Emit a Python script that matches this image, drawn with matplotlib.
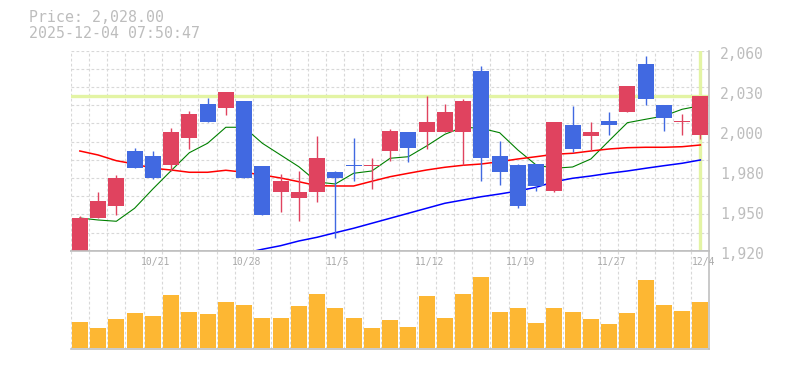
import numpy as np
import matplotlib
matplotlib.use("Agg")
import matplotlib.pyplot as plt
from matplotlib.transforms import blended_transform_factory, ScaledTranslation

# trading days, 2025-10-15 .. 2025-12-04
dates = ["10/15", "10/16", "10/17", "10/20", "10/21", "10/22", "10/23", "10/24",
         "10/27", "10/28", "10/29", "10/30", "10/31", "11/4", "11/5", "11/6",
         "11/7", "11/10", "11/11", "11/12", "11/13", "11/14", "11/17", "11/18",
         "11/19", "11/20", "11/21", "11/25", "11/26", "11/27", "11/28", "12/1",
         "12/2", "12/3", "12/4"]

opens = [1920, 1943, 1951, 1990, 1986, 1980, 1999, 2023, 2020, 2025,
         1979, 1961, 1957, 1961, 1975, 1980, 1979, 1990, 2003, 2003,
         2003, 2003, 2046, 1986, 1980, 1981, 1962, 2008, 2000, 2011,
         2017, 2051, 2022, 2010, 2001]
highs = [1944, 1961, 1973, 1992, 1990, 2006, 2018, 2027, 2031, 2025,
         1979, 1974, 1976, 2000, 1976, 1999, 1985, 2005, 2003, 2028,
         2023, 2026, 2049, 1997, 1981, 1981, 2010, 2021, 2010, 2017,
         2035, 2056, 2022, 2016, 2028]
lows = [1919, 1943, 1945, 1978, 1970, 1976, 1991, 2010, 2015, 1971,
        1945, 1947, 1941, 1954, 1929, 1969, 1963, 1983, 1982, 1991,
        2003, 1980, 1969, 1966, 1950, 1962, 1961, 1989, 1990, 2001,
        2017, 2022, 2004, 2001, 1998]
closes = [1943, 1955, 1971, 1978, 1971, 2003, 2016, 2010, 2031, 1971,
          1945, 1969, 1961, 1985, 1971, 1979, 1980, 2004, 1992, 2010,
          2017, 2025, 1985, 1975, 1951, 1965, 2010, 1991, 2003, 2008,
          2035, 2026, 2013, 2011, 2028]
volumes = [263, 200, 290, 353, 323, 533, 363, 343, 463, 433,
           303, 303, 423, 543, 403, 303, 203, 283, 213, 523,
           303, 543, 713, 363, 403, 253, 403, 363, 293, 243,
           353, 683, 433, 373, 463]

# moving averages
ma5 = [1942.9, 1941.5, 1940.6, 1949.7, 1963.2, 1976.0, 1988.6, 1995.2, 2006.4, 2006.4,
       1995.2, 1987.0, 1978.8, 1968.1, 1966.7, 1974.2, 1975.8, 1984.7, 1985.8, 1993.3,
       2001.5, 2006.4, 2005.7, 2002.6, 1990.5, 1980.0, 1977.7, 1978.6, 1984.2, 1997.0,
       2009.6, 2012.0, 2014.3, 2019.0, 2021.5]
ma25 = [1989.8, 1987.0, 1983.0, 1980.7, 1977.7, 1976.5, 1974.9, 1974.9, 1976.3, 1974.9,
        1973.0, 1970.9, 1968.3, 1965.5, 1965.3, 1965.3, 1968.6, 1971.8, 1974.2, 1976.5,
        1978.4, 1979.8, 1980.7, 1982.3, 1984.2, 1985.8, 1987.5, 1988.2, 1989.8, 1991.2,
        1992.1, 1992.4, 1992.4, 1992.8, 1994.0]
ma75 = [None] * 9 + [1918.2, 1921.0, 1923.5, 1926.8, 1929.4, 1932.6, 1935.7, 1939.2, 1942.7,
                     1946.2, 1949.7, 1953.2, 1955.5, 1957.8, 1959.7, 1961.8, 1964.4, 1968.3,
                     1970.7, 1972.3, 1974.2, 1975.8, 1977.7, 1979.5, 1981.2, 1983.5]

price_ticks = [1920, 1948, 1976, 2004, 2032, 2060]
price_labels = ["1,920", "1,950", "1,980", "2,000", "2,030", "2,060"]
last_price = 2028.00
timestamp = "2025-12-04 07:50:47"

UP = "#e0435f"
DOWN = "#4169e1"
VOL = "#fdb733"
MARK = "#e3f4a4"
GRID = "#d8d8d8"
FRAME = "#c0c0c0"
TEXT = "#bdbdbd"
MONO = "DejaVu Sans Mono"

W, H = 785, 370


def px_rect(left, top, right, bottom):
    return [left / W, 1 - bottom / H, (right - left) / W, (bottom - top) / H]


fig = plt.figure(figsize=(W / 100, H / 100), dpi=100)
ax = fig.add_axes(px_rect(70.7, 50.7, 709.5, 250.7))
axv = fig.add_axes(px_rect(70.7, 250.7, 709.5, 349))

n = len(dates)
x = np.arange(n)
o = np.array(opens, float)
c = np.array(closes, float)
up = c >= o
colors = [UP if u else DOWN for u in up]

# grid
for a in (ax, axv):
    for v in np.arange(-0.5, n - 0.4, 1.0):
        a.axvline(v, color=GRID, lw=0.8, ls=(0, (2.5, 2)), zorder=0)
for yv in np.linspace(price_ticks[0], price_ticks[-1], 12)[1:]:
    ax.axhline(yv, color=GRID, lw=0.8, ls=(0, (2.5, 2)), zorder=0)

# last price markers
ax.axhline(last_price, color=MARK, lw=2.4, zorder=1)
ax.axvline(n - 1, color=MARK, lw=2.4, zorder=1)

# moving averages
ax.plot(x, ma5, color="#008000", lw=0.8, zorder=2)
ax.plot(x, ma25, color="#ff0000", lw=1.1, zorder=2)
ma75_arr = np.array([np.nan if v is None else v for v in ma75])
ax.plot(x, ma75_arr, color="#0000ff", lw=1.1, zorder=2, clip_on=False)

# candles
ax.vlines(x, lows, highs, colors=colors, lw=1.0, zorder=3)
body = np.maximum(np.abs(c - o), 0.9)
ax.bar(x, body, bottom=np.minimum(o, c), width=0.88, color=colors, zorder=4)

ax.set_xlim(-0.5, n - 0.5)
ax.set_ylim(price_ticks[0], price_ticks[-1])
ax.set_xticks([])
ax.yaxis.tick_right()
ax.set_yticks(price_ticks)
ax.set_yticklabels(price_labels, family=MONO)
ax.tick_params(axis="y", length=0, pad=7.5, labelsize=10.5, labelcolor=TEXT)
shift = ScaledTranslation(0, -2 / 100, fig.dpi_scale_trans)
for lab in ax.get_yticklabels():
    lab.set_transform(lab.get_transform() + shift)
for s in ("left", "top"):
    ax.spines[s].set_visible(False)
for s in ("right", "bottom"):
    ax.spines[s].set_color(FRAME)
    ax.spines[s].set_linewidth(1.2)

# volume
axv.bar(x, volumes, width=0.88, color=VOL, zorder=2)
axv.set_xlim(-0.5, n - 0.5)
axv.set_ylim(-10, 973)
axv.set_xticks([])
axv.set_yticks([])
axv.spines["left"].set_visible(False)
for s in ("right", "bottom", "top"):
    axv.spines[s].set_color(FRAME)
    axv.spines[s].set_linewidth(1.2)

tr = blended_transform_factory(axv.transData, axv.transAxes)
for i in range(n):
    if (n - 1 - i) % 5 == 0:
        axv.text(i + 0.15, 0.885, dates[i], transform=tr, ha="center", va="center",
                 fontsize=7, color="#aaaaaa", family=MONO, zorder=5)

fig.text(29 / W, 1 - 17 / H, f"Price: {last_price:,.2f}", ha="left", va="center",
         fontsize=10.7, color=TEXT, family=MONO)
fig.text(29 / W, 1 - 33 / H, timestamp, ha="left", va="center",
         fontsize=10.7, color=TEXT, family=MONO)

fig.savefig("out.png", dpi=100, facecolor="white")
